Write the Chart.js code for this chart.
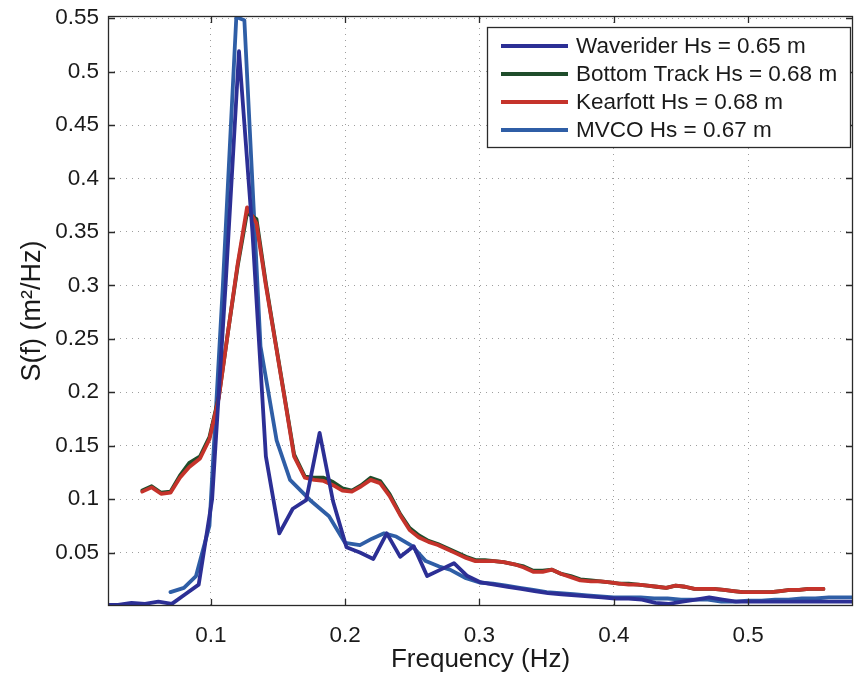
<!DOCTYPE html>
<html>
<head>
<meta charset="utf-8">
<script src="https://cdn.jsdelivr.net/npm/chart.js@4.4.0/dist/chart.umd.min.js"></script>
<style>
    html, body { margin: 0; padding: 0; background: #fff; }
    #contenedor { width: 854px; height: 673px; position: relative; }
</style>
</head>
<body>
<div id="contenedor"><canvas id="graficoEspectro"></canvas></div>
<script>
// frecuencias (Hz) y densidad espectral S(f) (m^2/Hz)
const freqWaverider = [0.021, 0.031, 0.041, 0.051, 0.061, 0.071, 0.081, 0.091, 0.101, 0.111,
    0.121, 0.131, 0.141, 0.151, 0.161, 0.171, 0.181, 0.191, 0.201, 0.211,
    0.221, 0.231, 0.241, 0.251, 0.261, 0.271, 0.281, 0.291, 0.301, 0.311,
    0.321, 0.331, 0.341, 0.351, 0.361, 0.371, 0.381, 0.391, 0.401, 0.411,
    0.421, 0.431, 0.441, 0.451, 0.461, 0.471, 0.481, 0.491, 0.501, 0.511,
    0.521, 0.531, 0.541, 0.551, 0.561, 0.571, 0.581];
const waverider = [0.001, 0.001, 0.003, 0.002, 0.004, 0.002, 0.011, 0.020, 0.100, 0.300,
    0.519, 0.350, 0.140, 0.068, 0.091, 0.099, 0.162, 0.098, 0.055, 0.050,
    0.044, 0.068, 0.046, 0.056, 0.028, 0.034, 0.040, 0.028, 0.022, 0.020,
    0.018, 0.016, 0.014, 0.012, 0.011, 0.010, 0.009, 0.008, 0.007, 0.007,
    0.006, 0.003, 0.002, 0.004, 0.006, 0.008, 0.006, 0.004, 0.004, 0.004,
    0.004, 0.004, 0.004, 0.004, 0.004, 0.004, 0.004];

const freqMvco = [0.070, 0.080, 0.089, 0.099, 0.109, 0.119, 0.125, 0.137, 0.149, 0.159,
    0.174, 0.188, 0.200, 0.211, 0.220, 0.229, 0.238, 0.250, 0.260, 0.270,
    0.278, 0.290, 0.300, 0.310, 0.320, 0.330, 0.340, 0.350, 0.360, 0.370,
    0.380, 0.390, 0.400, 0.410, 0.420, 0.430, 0.440, 0.450, 0.460, 0.470,
    0.480, 0.490, 0.500, 0.510, 0.520, 0.530, 0.540, 0.550, 0.560, 0.570, 0.580];
const mvco = [0.013, 0.017, 0.028, 0.075, 0.300, 0.551, 0.548, 0.243, 0.155, 0.118,
    0.099, 0.084, 0.059, 0.057, 0.063, 0.068, 0.065, 0.056, 0.042, 0.037,
    0.034, 0.026, 0.022, 0.021, 0.019, 0.017, 0.015, 0.013, 0.012, 0.011,
    0.010, 0.009, 0.008, 0.008, 0.008, 0.007, 0.007, 0.006, 0.006, 0.006,
    0.004, 0.004, 0.005, 0.005, 0.006, 0.006, 0.007, 0.007, 0.008, 0.008, 0.008];

const freqAdcp = [0.049, 0.056, 0.063, 0.070, 0.077, 0.084, 0.092, 0.099, 0.106, 0.113,
    0.120, 0.127, 0.134, 0.141, 0.148, 0.155, 0.162, 0.170, 0.177, 0.184,
    0.191, 0.198, 0.205, 0.212, 0.219, 0.226, 0.233, 0.241, 0.248, 0.255,
    0.262, 0.269, 0.276, 0.283, 0.290, 0.297, 0.304, 0.311, 0.318, 0.326,
    0.333, 0.340, 0.347, 0.354, 0.361, 0.368, 0.375, 0.383, 0.390, 0.397,
    0.404, 0.411, 0.418, 0.425, 0.432, 0.439, 0.446, 0.453, 0.460, 0.467,
    0.474, 0.482, 0.489, 0.496, 0.503, 0.510, 0.517, 0.524, 0.531, 0.538,
    0.545, 0.556];
const bottomTrack = [0.108, 0.112, 0.106, 0.107, 0.122, 0.134, 0.140, 0.158, 0.196, 0.258,
    0.318, 0.368, 0.362, 0.302, 0.248, 0.195, 0.142, 0.121, 0.120, 0.120,
    0.116, 0.110, 0.108, 0.113, 0.120, 0.117, 0.105, 0.086, 0.073, 0.066,
    0.061, 0.058, 0.054, 0.050, 0.046, 0.043, 0.043, 0.042, 0.041, 0.039,
    0.037, 0.033, 0.033, 0.034, 0.030, 0.028, 0.025, 0.024, 0.023, 0.022,
    0.021, 0.021, 0.020, 0.019, 0.018, 0.017, 0.019, 0.018, 0.016, 0.016,
    0.016, 0.015, 0.014, 0.013, 0.013, 0.013, 0.013, 0.014, 0.015, 0.015,
    0.016, 0.016];
const kearfott = [0.107, 0.111, 0.105, 0.106, 0.120, 0.130, 0.138, 0.156, 0.195, 0.258,
    0.320, 0.373, 0.358, 0.300, 0.247, 0.194, 0.140, 0.120, 0.118, 0.117,
    0.113, 0.108, 0.107, 0.112, 0.118, 0.115, 0.103, 0.085, 0.071, 0.064,
    0.060, 0.057, 0.053, 0.049, 0.045, 0.042, 0.042, 0.042, 0.041, 0.039,
    0.036, 0.032, 0.032, 0.034, 0.030, 0.027, 0.024, 0.023, 0.023, 0.022,
    0.021, 0.020, 0.020, 0.019, 0.018, 0.017, 0.019, 0.018, 0.016, 0.016,
    0.016, 0.015, 0.014, 0.013, 0.013, 0.013, 0.013, 0.014, 0.015, 0.015,
    0.016, 0.016];

const nombres = ['Waverider Hs = 0.65 m', 'Bottom Track Hs = 0.68 m', 'Kearfott Hs = 0.68 m', 'MVCO Hs = 0.67 m'];
const xTicks = [0.1, 0.2, 0.3, 0.4, 0.5];
const yTicks = [0.05, 0.1, 0.15, 0.2, 0.25, 0.3, 0.35, 0.4, 0.45, 0.5, 0.55];

const fuente = "'Liberation Sans', Arial, Helvetica, sans-serif";

function puntos(fx, fy) {
    return fx.map((f, i) => ({ x: f, y: fy[i] }));
}

// marco de ejes con marcas hacia adentro (estilo MATLAB)
const marco = {
    id: 'marco',
    afterDatasetsDraw(chart) {
        const { ctx, chartArea: a, scales } = chart;
        ctx.save();
        ctx.strokeStyle = '#2a2a2a';
        ctx.lineWidth = 1.3;
        ctx.beginPath();
        xTicks.forEach(v => {
            const px = Math.round(scales.x.getPixelForValue(v)) + 0.5;
            ctx.moveTo(px, a.bottom); ctx.lineTo(px, a.bottom - 7);
            ctx.moveTo(px, a.top); ctx.lineTo(px, a.top + 7);
        });
        yTicks.forEach(v => {
            const py = Math.round(scales.y.getPixelForValue(v)) + 0.5;
            ctx.moveTo(a.left, py); ctx.lineTo(a.left + 7, py);
            ctx.moveTo(a.right, py); ctx.lineTo(a.right - 7, py);
        });
        ctx.stroke();
        ctx.strokeRect(a.left + 0.5, a.top + 0.5, a.right - a.left - 1, a.bottom - a.top - 1);
        ctx.restore();
    }
};

// leyenda dentro del area, arriba a la derecha
const leyenda = {
    id: 'leyenda',
    afterDraw(chart) {
        const { ctx, chartArea: a } = chart;
        const ancho = 363, alto = 120;
        const x0 = a.right - 3 - ancho, y0 = a.top + 11;
        ctx.save();
        ctx.fillStyle = '#fff';
        ctx.fillRect(x0, y0, ancho, alto);
        ctx.strokeStyle = '#2a2a2a';
        ctx.lineWidth = 1.3;
        ctx.strokeRect(x0 + 0.5, y0 + 0.5, ancho, alto);
        ctx.font = '22.5px ' + fuente;
        ctx.textBaseline = 'middle';
        ctx.fillStyle = '#1a1a1a';
        chart.data.datasets.forEach((ds, i) => {
            const yy = y0 + 19 + i * 28;
            ctx.strokeStyle = ds.borderColor;
            ctx.lineWidth = 4;
            ctx.beginPath();
            ctx.moveTo(x0 + 14, yy);
            ctx.lineTo(x0 + 81, yy);
            ctx.stroke();
            ctx.fillText(ds.label, x0 + 89, yy + 1);
        });
        ctx.restore();
    }
};

const ctx = document.getElementById('graficoEspectro').getContext('2d');

new Chart(ctx, {
    type: 'line',
    data: {
        datasets: [
            { label: nombres[0], data: puntos(freqWaverider, waverider), borderColor: '#2c2f95', order: 0 },
            { label: nombres[1], data: puntos(freqAdcp, bottomTrack), borderColor: '#1f4d2b', order: 2 },
            { label: nombres[2], data: puntos(freqAdcp, kearfott), borderColor: '#c5332b', order: 1 },
            { label: nombres[3], data: puntos(freqMvco, mvco), borderColor: '#2f5ea6', order: 3 }
        ]
    },
    options: {
        responsive: true,
        maintainAspectRatio: false,
        animation: false,
        layout: {
            padding: { top: 16, right: 1, left: 0, bottom: 0 }
        },
        elements: {
            point: { radius: 0 },
            line: { borderWidth: 3.8, tension: 0, borderJoinStyle: 'round', borderCapStyle: 'round' }
        },
        plugins: {
            legend: { display: false },
            tooltip: { enabled: false }
        },
        scales: {
            x: {
                type: 'linear',
                min: 0.0235,
                max: 0.578,
                afterBuildTicks: s => { s.ticks = xTicks.map(v => ({ value: v })); },
                afterFit: s => { s.height = 67; s.paddingLeft = 0; s.paddingRight = 0; },
                border: { display: false, dash: [1, 5] },
                grid: {
                    drawTicks: false,
                    color: 'rgba(0,0,0,0.38)',
                    lineWidth: 1
                },
                ticks: {
                    color: '#1a1a1a',
                    padding: 16,
                    maxRotation: 0,
                    font: { family: fuente, size: 22.5 },
                    callback: v => String(v)
                },
                title: {
                    display: true,
                    text: 'Frequency (Hz)',
                    color: '#1a1a1a',
                    padding: { top: 0, bottom: 0 },
                    font: { family: fuente, size: 26, lineHeight: 1.0 }
                }
            },
            y: {
                min: 0,
                max: 0.552,
                afterBuildTicks: s => { s.ticks = yTicks.map(v => ({ value: v })); },
                afterFit: s => { s.width = 108; s.paddingTop = 0; s.paddingBottom = 0; },
                border: { display: false, dash: [1, 5] },
                grid: {
                    drawTicks: false,
                    color: 'rgba(0,0,0,0.38)',
                    lineWidth: 1
                },
                ticks: {
                    color: '#1a1a1a',
                    padding: 9,
                    font: { family: fuente, size: 22.5 },
                    callback: v => String(v)
                },
                title: {
                    display: true,
                    text: 'S(f) (m²/Hz)',
                    color: '#1a1a1a',
                    padding: { top: 16, bottom: 0 },
                    font: { family: fuente, size: 27 }
                }
            }
        }
    },
    plugins: [marco, leyenda]
});
</script>
</body>
</html>
